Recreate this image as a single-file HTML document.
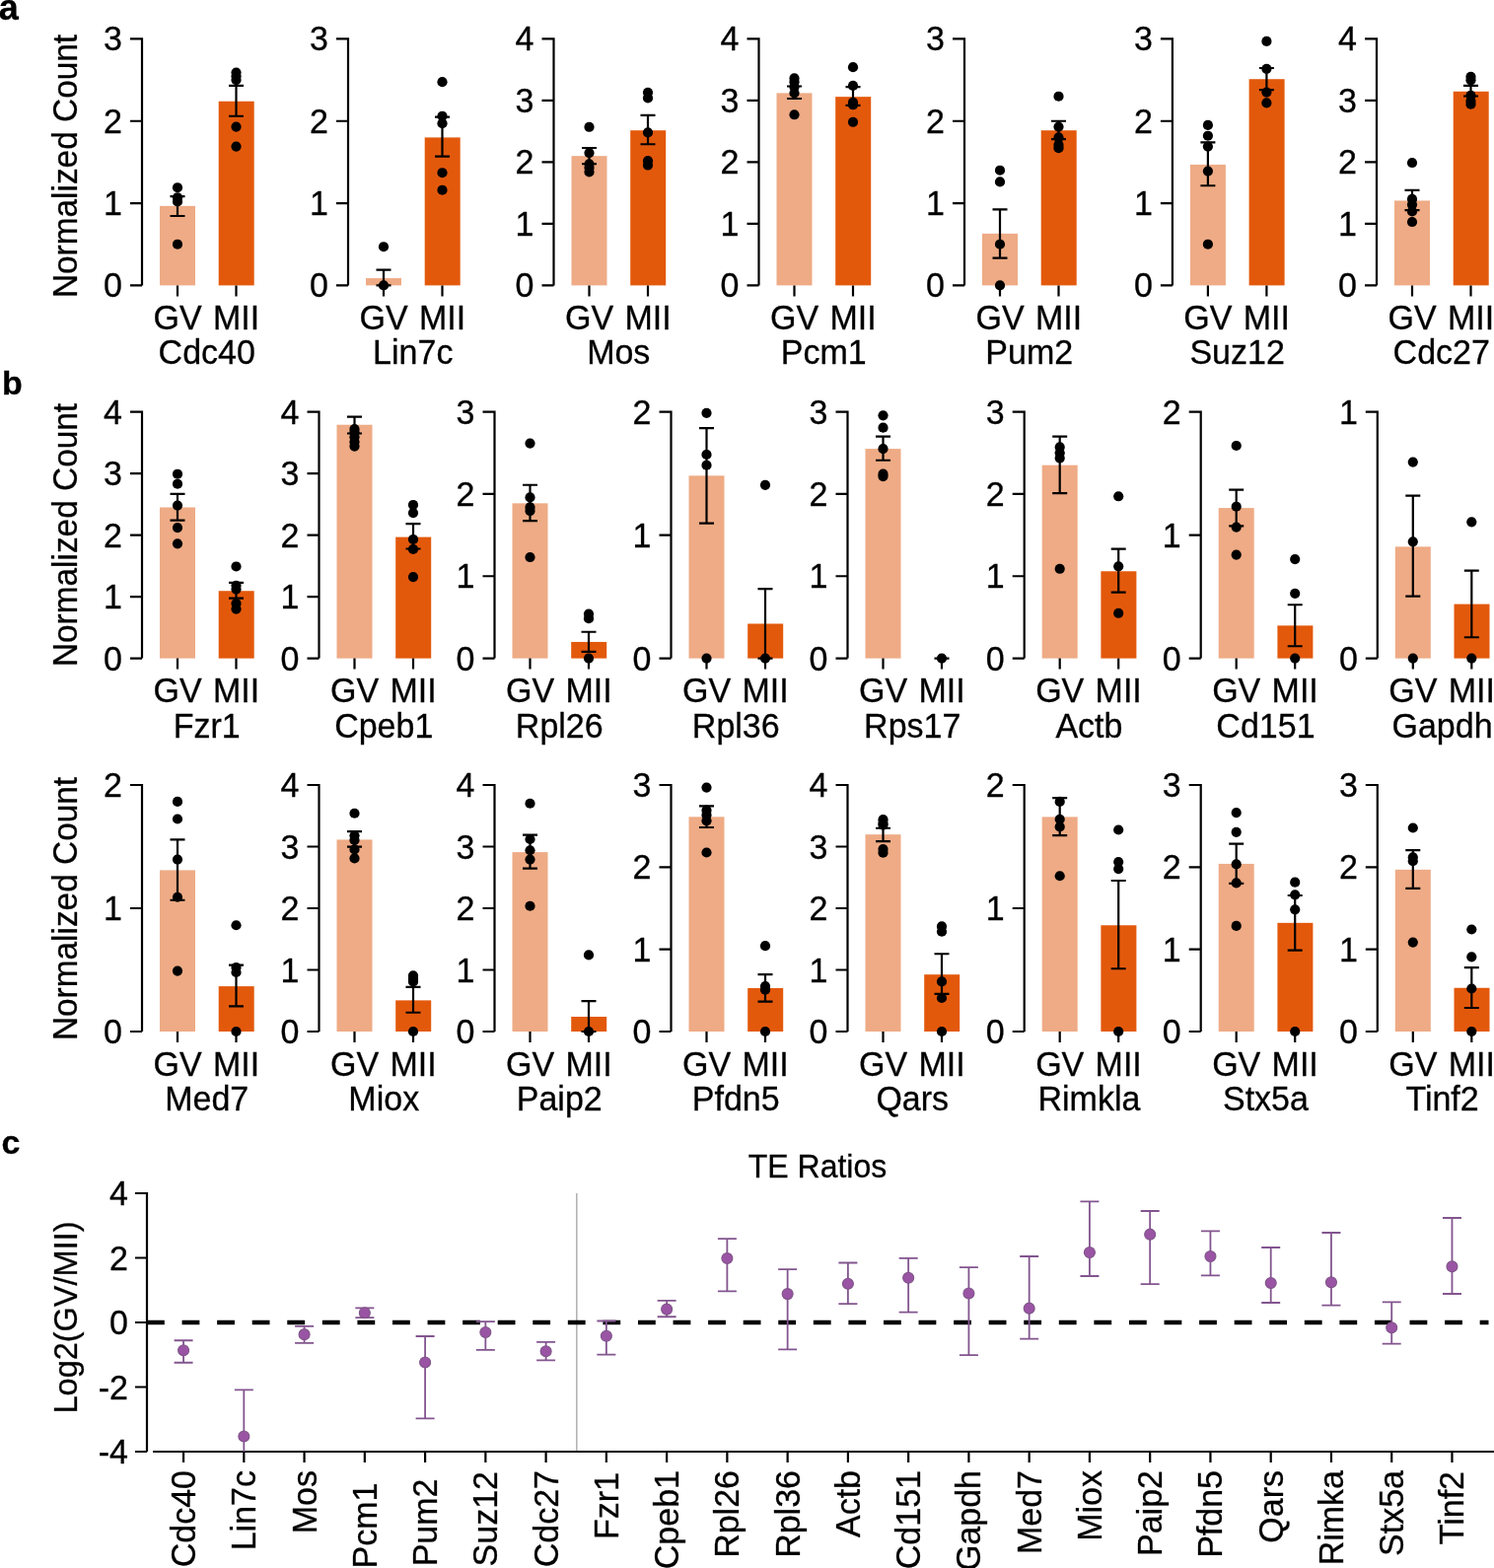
<!DOCTYPE html>
<html><head><meta charset="utf-8"><title>Figure</title>
<style>html,body{margin:0;padding:0;background:#fff;}text{stroke:#000;stroke-width:0.3px;}body{width:1515px;height:1590px;overflow:hidden;}svg{display:block;}</style>
</head><body>
<svg width="1515" height="1590" viewBox="0 0 1515 1590" font-family="'Liberation Sans', Arial, Helvetica, sans-serif" font-size="34" fill="#000">
<rect x="162" y="208.82" width="36" height="80.58" fill="#EEAB85"/>
<rect x="221.7" y="102.73" width="36" height="186.67" fill="#E3590C"/>
<path d="M132 39.4H144V289.4M132 289.4H144M132 206.07H144M132 122.73H144M180 289.4v11M239.5 289.4v11" fill="none" stroke="#000" stroke-width="2.2"/>
<path d="M180 218.98V199.07M172.5 199.07h15M172.5 218.98h15M239.5 117.73V86.9M232 86.9h15M232 117.73h15" fill="none" stroke="#000" stroke-width="2.2"/>
<circle cx="180" cy="190.23" r="5.1"/>
<circle cx="180" cy="200.23" r="5.1"/>
<circle cx="180" cy="204.4" r="5.1"/>
<circle cx="180" cy="247.73" r="5.1"/>
<circle cx="239.5" cy="73.57" r="5.1"/>
<circle cx="239.5" cy="77.32" r="5.1"/>
<circle cx="239.5" cy="81.07" r="5.1"/>
<circle cx="239.5" cy="128.57" r="5.1"/>
<circle cx="239.5" cy="148.57" r="5.1"/>
<text transform="translate(124 301.4) scale(1 1.05)" text-anchor="end">0</text>
<text transform="translate(124 218.07) scale(1 1.05)" text-anchor="end">1</text>
<text transform="translate(124 134.73) scale(1 1.05)" text-anchor="end">2</text>
<text transform="translate(124 51.4) scale(1 1.05)" text-anchor="end">3</text>
<text transform="translate(180 333.9) scale(1 1.05)" text-anchor="middle">GV</text>
<text transform="translate(239.5 333.9) scale(1 1.05)" text-anchor="middle">MII</text>
<text transform="translate(209.75 369.4) scale(1 1.05)" text-anchor="middle">Cdc40</text>
<rect x="371" y="282.07" width="36" height="7.33" fill="#EEAB85"/>
<rect x="430.7" y="139.4" width="36" height="150" fill="#E3590C"/>
<path d="M341 39.4H353V289.4M341 289.4H353M341 206.07H353M341 122.73H353M389 289.4v11M448.5 289.4v11" fill="none" stroke="#000" stroke-width="2.2"/>
<path d="M389 289.4V273.57M381.5 273.57h15M381.5 289.4h15M448.5 158.57V118.57M441 118.57h15M441 158.57h15" fill="none" stroke="#000" stroke-width="2.2"/>
<circle cx="389" cy="250.23" r="5.1"/>
<circle cx="389" cy="289.4" r="5.1"/>
<circle cx="448.5" cy="83.15" r="5.1"/>
<circle cx="448.5" cy="117.73" r="5.1"/>
<circle cx="448.5" cy="125.23" r="5.1"/>
<circle cx="448.5" cy="175.23" r="5.1"/>
<circle cx="448.5" cy="192.73" r="5.1"/>
<text transform="translate(333 301.4) scale(1 1.05)" text-anchor="end">0</text>
<text transform="translate(333 218.07) scale(1 1.05)" text-anchor="end">1</text>
<text transform="translate(333 134.73) scale(1 1.05)" text-anchor="end">2</text>
<text transform="translate(333 51.4) scale(1 1.05)" text-anchor="end">3</text>
<text transform="translate(389 333.9) scale(1 1.05)" text-anchor="middle">GV</text>
<text transform="translate(448.5 333.9) scale(1 1.05)" text-anchor="middle">MII</text>
<text transform="translate(418.75 369.4) scale(1 1.05)" text-anchor="middle">Lin7c</text>
<rect x="579.5" y="158.15" width="36" height="131.25" fill="#EEAB85"/>
<rect x="639.2" y="132.21" width="36" height="157.19" fill="#E3590C"/>
<path d="M549.5 39.4H561.5V289.4M549.5 289.4H561.5M549.5 226.9H561.5M549.5 164.4H561.5M549.5 101.9H561.5M597.5 289.4v11M657 289.4v11" fill="none" stroke="#000" stroke-width="2.2"/>
<path d="M597.5 166.27V150.02M590 150.02h15M590 166.27h15M657 146.27V116.9M649.5 116.9h15M649.5 146.27h15" fill="none" stroke="#000" stroke-width="2.2"/>
<circle cx="597.5" cy="128.77" r="5.1"/>
<circle cx="597.5" cy="155.02" r="5.1"/>
<circle cx="597.5" cy="166.27" r="5.1"/>
<circle cx="597.5" cy="170.02" r="5.1"/>
<circle cx="597.5" cy="174.4" r="5.1"/>
<circle cx="657" cy="93.77" r="5.1"/>
<circle cx="657" cy="99.4" r="5.1"/>
<circle cx="657" cy="134.4" r="5.1"/>
<circle cx="657" cy="163.15" r="5.1"/>
<circle cx="657" cy="167.52" r="5.1"/>
<text transform="translate(541.5 301.4) scale(1 1.05)" text-anchor="end">0</text>
<text transform="translate(541.5 238.9) scale(1 1.05)" text-anchor="end">1</text>
<text transform="translate(541.5 176.4) scale(1 1.05)" text-anchor="end">2</text>
<text transform="translate(541.5 113.9) scale(1 1.05)" text-anchor="end">3</text>
<text transform="translate(541.5 51.4) scale(1 1.05)" text-anchor="end">4</text>
<text transform="translate(597.5 333.9) scale(1 1.05)" text-anchor="middle">GV</text>
<text transform="translate(657 333.9) scale(1 1.05)" text-anchor="middle">MII</text>
<text transform="translate(627.25 369.4) scale(1 1.05)" text-anchor="middle">Mos</text>
<rect x="787.5" y="94.4" width="36" height="195" fill="#EEAB85"/>
<rect x="847.2" y="98.15" width="36" height="191.25" fill="#E3590C"/>
<path d="M757.5 39.4H769.5V289.4M757.5 289.4H769.5M757.5 226.9H769.5M757.5 164.4H769.5M757.5 101.9H769.5M805.5 289.4v11M865 289.4v11" fill="none" stroke="#000" stroke-width="2.2"/>
<path d="M805.5 100.02V87.52M798 87.52h15M798 100.02h15M865 106.9V88.15M857.5 88.15h15M857.5 106.9h15" fill="none" stroke="#000" stroke-width="2.2"/>
<circle cx="805.5" cy="79.4" r="5.1"/>
<circle cx="805.5" cy="83.15" r="5.1"/>
<circle cx="805.5" cy="88.15" r="5.1"/>
<circle cx="805.5" cy="94.4" r="5.1"/>
<circle cx="805.5" cy="116.27" r="5.1"/>
<circle cx="865" cy="68.15" r="5.1"/>
<circle cx="865" cy="86.9" r="5.1"/>
<circle cx="865" cy="103.77" r="5.1"/>
<circle cx="865" cy="106.27" r="5.1"/>
<circle cx="865" cy="123.77" r="5.1"/>
<text transform="translate(749.5 301.4) scale(1 1.05)" text-anchor="end">0</text>
<text transform="translate(749.5 238.9) scale(1 1.05)" text-anchor="end">1</text>
<text transform="translate(749.5 176.4) scale(1 1.05)" text-anchor="end">2</text>
<text transform="translate(749.5 113.9) scale(1 1.05)" text-anchor="end">3</text>
<text transform="translate(749.5 51.4) scale(1 1.05)" text-anchor="end">4</text>
<text transform="translate(805.5 333.9) scale(1 1.05)" text-anchor="middle">GV</text>
<text transform="translate(865 333.9) scale(1 1.05)" text-anchor="middle">MII</text>
<text transform="translate(835.25 369.4) scale(1 1.05)" text-anchor="middle">Pcm1</text>
<rect x="996" y="236.9" width="36" height="52.5" fill="#EEAB85"/>
<rect x="1055.7" y="132.23" width="36" height="157.17" fill="#E3590C"/>
<path d="M966 39.4H978V289.4M966 289.4H978M966 206.07H978M966 122.73H978M1014 289.4v11M1073.5 289.4v11" fill="none" stroke="#000" stroke-width="2.2"/>
<path d="M1014 261.65V212.32M1006.5 212.32h15M1006.5 261.65h15M1073.5 141.07V122.73M1066 122.73h15M1066 141.07h15" fill="none" stroke="#000" stroke-width="2.2"/>
<circle cx="1014" cy="172.73" r="5.1"/>
<circle cx="1014" cy="184.4" r="5.1"/>
<circle cx="1014" cy="247.73" r="5.1"/>
<circle cx="1014" cy="289.4" r="5.1"/>
<circle cx="1073.5" cy="97.73" r="5.1"/>
<circle cx="1073.5" cy="128.57" r="5.1"/>
<circle cx="1073.5" cy="139.4" r="5.1"/>
<circle cx="1073.5" cy="146.9" r="5.1"/>
<circle cx="1073.5" cy="150.23" r="5.1"/>
<text transform="translate(958 301.4) scale(1 1.05)" text-anchor="end">0</text>
<text transform="translate(958 218.07) scale(1 1.05)" text-anchor="end">1</text>
<text transform="translate(958 134.73) scale(1 1.05)" text-anchor="end">2</text>
<text transform="translate(958 51.4) scale(1 1.05)" text-anchor="end">3</text>
<text transform="translate(1014 333.9) scale(1 1.05)" text-anchor="middle">GV</text>
<text transform="translate(1073.5 333.9) scale(1 1.05)" text-anchor="middle">MII</text>
<text transform="translate(1043.75 369.4) scale(1 1.05)" text-anchor="middle">Pum2</text>
<rect x="1206.9" y="166.9" width="36" height="122.5" fill="#EEAB85"/>
<rect x="1266.6" y="80.23" width="36" height="209.17" fill="#E3590C"/>
<path d="M1176.9 39.4H1188.9V289.4M1176.9 289.4H1188.9M1176.9 206.07H1188.9M1176.9 122.73H1188.9M1224.9 289.4v11M1284.4 289.4v11" fill="none" stroke="#000" stroke-width="2.2"/>
<path d="M1224.9 188.23V144.4M1217.4 144.4h15M1217.4 188.23h15M1284.4 91.07V68.98M1276.9 68.98h15M1276.9 91.07h15" fill="none" stroke="#000" stroke-width="2.2"/>
<circle cx="1224.9" cy="126.9" r="5.1"/>
<circle cx="1224.9" cy="137.73" r="5.1"/>
<circle cx="1224.9" cy="148.57" r="5.1"/>
<circle cx="1224.9" cy="173.57" r="5.1"/>
<circle cx="1224.9" cy="247.73" r="5.1"/>
<circle cx="1284.4" cy="41.9" r="5.1"/>
<circle cx="1284.4" cy="69.82" r="5.1"/>
<circle cx="1284.4" cy="93.57" r="5.1"/>
<circle cx="1284.4" cy="104.4" r="5.1"/>
<text transform="translate(1168.9 301.4) scale(1 1.05)" text-anchor="end">0</text>
<text transform="translate(1168.9 218.07) scale(1 1.05)" text-anchor="end">1</text>
<text transform="translate(1168.9 134.73) scale(1 1.05)" text-anchor="end">2</text>
<text transform="translate(1168.9 51.4) scale(1 1.05)" text-anchor="end">3</text>
<text transform="translate(1224.9 333.9) scale(1 1.05)" text-anchor="middle">GV</text>
<text transform="translate(1284.4 333.9) scale(1 1.05)" text-anchor="middle">MII</text>
<text transform="translate(1254.65 369.4) scale(1 1.05)" text-anchor="middle">Suz12</text>
<rect x="1414" y="203.46" width="36" height="85.94" fill="#EEAB85"/>
<rect x="1473.7" y="92.77" width="36" height="196.62" fill="#E3590C"/>
<path d="M1384 39.4H1396V289.4M1384 289.4H1396M1384 226.9H1396M1384 164.4H1396M1384 101.9H1396M1432 289.4v11M1491.5 289.4v11" fill="none" stroke="#000" stroke-width="2.2"/>
<path d="M1432 213.15V192.9M1424.5 192.9h15M1424.5 213.15h15M1491.5 97.52V86.9M1484 86.9h15M1484 97.52h15" fill="none" stroke="#000" stroke-width="2.2"/>
<circle cx="1432" cy="165.02" r="5.1"/>
<circle cx="1432" cy="201.9" r="5.1"/>
<circle cx="1432" cy="207.52" r="5.1"/>
<circle cx="1432" cy="214.4" r="5.1"/>
<circle cx="1432" cy="225.02" r="5.1"/>
<circle cx="1491.5" cy="77.84" r="5.1"/>
<circle cx="1491.5" cy="81.27" r="5.1"/>
<circle cx="1491.5" cy="96.9" r="5.1"/>
<circle cx="1491.5" cy="102.52" r="5.1"/>
<circle cx="1491.5" cy="105.65" r="5.1"/>
<text transform="translate(1376 301.4) scale(1 1.05)" text-anchor="end">0</text>
<text transform="translate(1376 238.9) scale(1 1.05)" text-anchor="end">1</text>
<text transform="translate(1376 176.4) scale(1 1.05)" text-anchor="end">2</text>
<text transform="translate(1376 113.9) scale(1 1.05)" text-anchor="end">3</text>
<text transform="translate(1376 51.4) scale(1 1.05)" text-anchor="end">4</text>
<text transform="translate(1432 333.9) scale(1 1.05)" text-anchor="middle">GV</text>
<text transform="translate(1491.5 333.9) scale(1 1.05)" text-anchor="middle">MII</text>
<text transform="translate(1461.75 369.4) scale(1 1.05)" text-anchor="middle">Cdc27</text>
<rect x="162" y="514.48" width="36" height="153.12" fill="#EEAB85"/>
<rect x="221.7" y="599.23" width="36" height="68.38" fill="#E3590C"/>
<path d="M132 417.6H144V667.6M132 667.6H144M132 605.1H144M132 542.6H144M132 480.1H144M180 667.6v11M239.5 667.6v11" fill="none" stroke="#000" stroke-width="2.2"/>
<path d="M180 527.6V500.91M172.5 500.91h15M172.5 527.6h15M239.5 606.6V590.91M232 590.91h15M232 606.6h15" fill="none" stroke="#000" stroke-width="2.2"/>
<circle cx="180" cy="480.73" r="5.1"/>
<circle cx="180" cy="490.73" r="5.1"/>
<circle cx="180" cy="512.6" r="5.1"/>
<circle cx="180" cy="535.1" r="5.1"/>
<circle cx="180" cy="551.35" r="5.1"/>
<circle cx="239.5" cy="574.48" r="5.1"/>
<circle cx="239.5" cy="593.85" r="5.1"/>
<circle cx="239.5" cy="597.6" r="5.1"/>
<circle cx="239.5" cy="611.98" r="5.1"/>
<circle cx="239.5" cy="617.6" r="5.1"/>
<text transform="translate(124 679.6) scale(1 1.05)" text-anchor="end">0</text>
<text transform="translate(124 617.1) scale(1 1.05)" text-anchor="end">1</text>
<text transform="translate(124 554.6) scale(1 1.05)" text-anchor="end">2</text>
<text transform="translate(124 492.1) scale(1 1.05)" text-anchor="end">3</text>
<text transform="translate(124 429.6) scale(1 1.05)" text-anchor="end">4</text>
<text transform="translate(180 712.1) scale(1 1.05)" text-anchor="middle">GV</text>
<text transform="translate(239.5 712.1) scale(1 1.05)" text-anchor="middle">MII</text>
<text transform="translate(209.75 747.6) scale(1 1.05)" text-anchor="middle">Fzr1</text>
<rect x="341.5" y="430.73" width="36" height="236.88" fill="#EEAB85"/>
<rect x="401.2" y="544.6" width="36" height="123" fill="#E3590C"/>
<path d="M311.5 417.6H323.5V667.6M311.5 667.6H323.5M311.5 605.1H323.5M311.5 542.6H323.5M311.5 480.1H323.5M359.5 667.6v11M419 667.6v11" fill="none" stroke="#000" stroke-width="2.2"/>
<path d="M359.5 439.48V422.6M352 422.6h15M352 439.48h15M419 556.48V531.04M411.5 531.04h15M411.5 556.48h15" fill="none" stroke="#000" stroke-width="2.2"/>
<circle cx="359.5" cy="435.1" r="5.1"/>
<circle cx="359.5" cy="438.23" r="5.1"/>
<circle cx="359.5" cy="443.23" r="5.1"/>
<circle cx="359.5" cy="448.23" r="5.1"/>
<circle cx="359.5" cy="452.6" r="5.1"/>
<circle cx="419" cy="511.98" r="5.1"/>
<circle cx="419" cy="520.1" r="5.1"/>
<circle cx="419" cy="546.98" r="5.1"/>
<circle cx="419" cy="556.98" r="5.1"/>
<circle cx="419" cy="585.1" r="5.1"/>
<text transform="translate(303.5 679.6) scale(1 1.05)" text-anchor="end">0</text>
<text transform="translate(303.5 617.1) scale(1 1.05)" text-anchor="end">1</text>
<text transform="translate(303.5 554.6) scale(1 1.05)" text-anchor="end">2</text>
<text transform="translate(303.5 492.1) scale(1 1.05)" text-anchor="end">3</text>
<text transform="translate(303.5 429.6) scale(1 1.05)" text-anchor="end">4</text>
<text transform="translate(359.5 712.1) scale(1 1.05)" text-anchor="middle">GV</text>
<text transform="translate(419 712.1) scale(1 1.05)" text-anchor="middle">MII</text>
<text transform="translate(389.25 747.6) scale(1 1.05)" text-anchor="middle">Cpeb1</text>
<rect x="519.5" y="510.35" width="36" height="157.25" fill="#EEAB85"/>
<rect x="579.2" y="650.93" width="36" height="16.67" fill="#E3590C"/>
<path d="M489.5 417.6H501.5V667.6M489.5 667.6H501.5M489.5 584.27H501.5M489.5 500.93H501.5M537.5 667.6v11M597 667.6v11" fill="none" stroke="#000" stroke-width="2.2"/>
<path d="M537.5 528.18V491.77M530 491.77h15M530 528.18h15M597 660.93V640.77M589.5 640.77h15M589.5 660.93h15" fill="none" stroke="#000" stroke-width="2.2"/>
<circle cx="537.5" cy="449.6" r="5.1"/>
<circle cx="537.5" cy="504.43" r="5.1"/>
<circle cx="537.5" cy="514.43" r="5.1"/>
<circle cx="537.5" cy="518.02" r="5.1"/>
<circle cx="537.5" cy="565.02" r="5.1"/>
<circle cx="597" cy="622.6" r="5.1"/>
<circle cx="597" cy="627.18" r="5.1"/>
<circle cx="597" cy="667.6" r="5.1"/>
<text transform="translate(481.5 679.6) scale(1 1.05)" text-anchor="end">0</text>
<text transform="translate(481.5 596.27) scale(1 1.05)" text-anchor="end">1</text>
<text transform="translate(481.5 512.93) scale(1 1.05)" text-anchor="end">2</text>
<text transform="translate(481.5 429.6) scale(1 1.05)" text-anchor="end">3</text>
<text transform="translate(537.5 712.1) scale(1 1.05)" text-anchor="middle">GV</text>
<text transform="translate(597 712.1) scale(1 1.05)" text-anchor="middle">MII</text>
<text transform="translate(567.25 747.6) scale(1 1.05)" text-anchor="middle">Rpl26</text>
<rect x="698.5" y="482.35" width="36" height="185.25" fill="#EEAB85"/>
<rect x="758.2" y="632.48" width="36" height="35.12" fill="#E3590C"/>
<path d="M668.5 417.6H680.5V667.6M668.5 667.6H680.5M668.5 542.6H680.5M716.5 667.6v11M776 667.6v11" fill="none" stroke="#000" stroke-width="2.2"/>
<path d="M716.5 530.6V434.1M709 434.1h15M709 530.6h15M776 667.6V597.1M768.5 597.1h15M768.5 667.6h15" fill="none" stroke="#000" stroke-width="2.2"/>
<circle cx="716.5" cy="418.85" r="5.1"/>
<circle cx="716.5" cy="460.98" r="5.1"/>
<circle cx="716.5" cy="471.73" r="5.1"/>
<circle cx="716.5" cy="667.6" r="5.1"/>
<circle cx="776" cy="491.85" r="5.1"/>
<circle cx="776" cy="667.6" r="5.1"/>
<text transform="translate(660.5 679.6) scale(1 1.05)" text-anchor="end">0</text>
<text transform="translate(660.5 554.6) scale(1 1.05)" text-anchor="end">1</text>
<text transform="translate(660.5 429.6) scale(1 1.05)" text-anchor="end">2</text>
<text transform="translate(716.5 712.1) scale(1 1.05)" text-anchor="middle">GV</text>
<text transform="translate(776 712.1) scale(1 1.05)" text-anchor="middle">MII</text>
<text transform="translate(746.25 747.6) scale(1 1.05)" text-anchor="middle">Rpl36</text>
<rect x="877.5" y="455.1" width="36" height="212.5" fill="#EEAB85"/>
<path d="M847.5 417.6H859.5V667.6M847.5 667.6H859.5M847.5 584.27H859.5M847.5 500.93H859.5M895.5 667.6v11M955 667.6v11" fill="none" stroke="#000" stroke-width="2.2"/>
<path d="M895.5 466.77V442.6M888 442.6h15M888 466.77h15M955 667.6V667.6M947.5 667.6h15M947.5 667.6h15" fill="none" stroke="#000" stroke-width="2.2"/>
<circle cx="895.5" cy="421.35" r="5.1"/>
<circle cx="895.5" cy="433.68" r="5.1"/>
<circle cx="895.5" cy="455.1" r="5.1"/>
<circle cx="895.5" cy="480.68" r="5.1"/>
<circle cx="895.5" cy="483.1" r="5.1"/>
<circle cx="955" cy="667.6" r="5.1"/>
<text transform="translate(839.5 679.6) scale(1 1.05)" text-anchor="end">0</text>
<text transform="translate(839.5 596.27) scale(1 1.05)" text-anchor="end">1</text>
<text transform="translate(839.5 512.93) scale(1 1.05)" text-anchor="end">2</text>
<text transform="translate(839.5 429.6) scale(1 1.05)" text-anchor="end">3</text>
<text transform="translate(895.5 712.1) scale(1 1.05)" text-anchor="middle">GV</text>
<text transform="translate(955 712.1) scale(1 1.05)" text-anchor="middle">MII</text>
<text transform="translate(925.25 747.6) scale(1 1.05)" text-anchor="middle">Rps17</text>
<rect x="1056.7" y="471.68" width="36" height="195.92" fill="#EEAB85"/>
<rect x="1116.4" y="579.27" width="36" height="88.33" fill="#E3590C"/>
<path d="M1026.7 417.6H1038.7V667.6M1026.7 667.6H1038.7M1026.7 584.27H1038.7M1026.7 500.93H1038.7M1074.7 667.6v11M1134.2 667.6v11" fill="none" stroke="#000" stroke-width="2.2"/>
<path d="M1074.7 500.1V442.6M1067.2 442.6h15M1067.2 500.1h15M1134.2 600.6V556.68M1126.7 556.68h15M1126.7 600.6h15" fill="none" stroke="#000" stroke-width="2.2"/>
<circle cx="1074.7" cy="453.43" r="5.1"/>
<circle cx="1074.7" cy="459.27" r="5.1"/>
<circle cx="1074.7" cy="464.52" r="5.1"/>
<circle cx="1074.7" cy="576.77" r="5.1"/>
<circle cx="1134.2" cy="503.27" r="5.1"/>
<circle cx="1134.2" cy="574.27" r="5.1"/>
<circle cx="1134.2" cy="621.77" r="5.1"/>
<text transform="translate(1018.7 679.6) scale(1 1.05)" text-anchor="end">0</text>
<text transform="translate(1018.7 596.27) scale(1 1.05)" text-anchor="end">1</text>
<text transform="translate(1018.7 512.93) scale(1 1.05)" text-anchor="end">2</text>
<text transform="translate(1018.7 429.6) scale(1 1.05)" text-anchor="end">3</text>
<text transform="translate(1074.7 712.1) scale(1 1.05)" text-anchor="middle">GV</text>
<text transform="translate(1134.2 712.1) scale(1 1.05)" text-anchor="middle">MII</text>
<text transform="translate(1104.45 747.6) scale(1 1.05)" text-anchor="middle">Actb</text>
<rect x="1235.7" y="515.1" width="36" height="152.5" fill="#EEAB85"/>
<rect x="1295.4" y="634.35" width="36" height="33.25" fill="#E3590C"/>
<path d="M1205.7 417.6H1217.7V667.6M1205.7 667.6H1217.7M1205.7 542.6H1217.7M1253.7 667.6v11M1313.2 667.6v11" fill="none" stroke="#000" stroke-width="2.2"/>
<path d="M1253.7 533.35V496.6M1246.2 496.6h15M1246.2 533.35h15M1313.2 655.23V613.23M1305.7 613.23h15M1305.7 655.23h15" fill="none" stroke="#000" stroke-width="2.2"/>
<circle cx="1253.7" cy="451.98" r="5.1"/>
<circle cx="1253.7" cy="513.73" r="5.1"/>
<circle cx="1253.7" cy="534.6" r="5.1"/>
<circle cx="1253.7" cy="562.6" r="5.1"/>
<circle cx="1313.2" cy="567.1" r="5.1"/>
<circle cx="1313.2" cy="601.85" r="5.1"/>
<circle cx="1313.2" cy="667.6" r="5.1"/>
<text transform="translate(1197.7 679.6) scale(1 1.05)" text-anchor="end">0</text>
<text transform="translate(1197.7 554.6) scale(1 1.05)" text-anchor="end">1</text>
<text transform="translate(1197.7 429.6) scale(1 1.05)" text-anchor="end">2</text>
<text transform="translate(1253.7 712.1) scale(1 1.05)" text-anchor="middle">GV</text>
<text transform="translate(1313.2 712.1) scale(1 1.05)" text-anchor="middle">MII</text>
<text transform="translate(1283.45 747.6) scale(1 1.05)" text-anchor="middle">Cd151</text>
<rect x="1414.8" y="554.35" width="36" height="113.25" fill="#EEAB85"/>
<rect x="1474.5" y="612.6" width="36" height="55" fill="#E3590C"/>
<path d="M1384.8 417.6H1396.8V667.6M1384.8 667.6H1396.8M1432.8 667.6v11M1492.3 667.6v11" fill="none" stroke="#000" stroke-width="2.2"/>
<path d="M1432.8 604.6V502.6M1425.3 502.6h15M1425.3 604.6h15M1492.3 646.23V578.6M1484.8 578.6h15M1484.8 646.23h15" fill="none" stroke="#000" stroke-width="2.2"/>
<circle cx="1432.8" cy="468.6" r="5.1"/>
<circle cx="1432.8" cy="549.35" r="5.1"/>
<circle cx="1432.8" cy="667.6" r="5.1"/>
<circle cx="1492.3" cy="529.35" r="5.1"/>
<circle cx="1492.3" cy="667.6" r="5.1"/>
<text transform="translate(1376.8 679.6) scale(1 1.05)" text-anchor="end">0</text>
<text transform="translate(1376.8 429.6) scale(1 1.05)" text-anchor="end">1</text>
<text transform="translate(1432.8 712.1) scale(1 1.05)" text-anchor="middle">GV</text>
<text transform="translate(1492.3 712.1) scale(1 1.05)" text-anchor="middle">MII</text>
<text transform="translate(1462.55 747.6) scale(1 1.05)" text-anchor="middle">Gapdh</text>
<rect x="162" y="882.38" width="36" height="163.62" fill="#EEAB85"/>
<rect x="221.7" y="1000.12" width="36" height="45.88" fill="#E3590C"/>
<path d="M132 796H144V1046M132 1046H144M132 921H144M180 1046v11M239.5 1046v11" fill="none" stroke="#000" stroke-width="2.2"/>
<path d="M180 912.75V851.38M172.5 851.38h15M172.5 912.75h15M239.5 1020.31V978.62M232 978.62h15M232 1020.31h15" fill="none" stroke="#000" stroke-width="2.2"/>
<circle cx="180" cy="812.88" r="5.1"/>
<circle cx="180" cy="830.5" r="5.1"/>
<circle cx="180" cy="871.62" r="5.1"/>
<circle cx="180" cy="909.75" r="5.1"/>
<circle cx="180" cy="984.62" r="5.1"/>
<circle cx="239.5" cy="938.25" r="5.1"/>
<circle cx="239.5" cy="981" r="5.1"/>
<circle cx="239.5" cy="986" r="5.1"/>
<circle cx="239.5" cy="1046" r="5.1"/>
<text transform="translate(124 1058) scale(1 1.05)" text-anchor="end">0</text>
<text transform="translate(124 933) scale(1 1.05)" text-anchor="end">1</text>
<text transform="translate(124 808) scale(1 1.05)" text-anchor="end">2</text>
<text transform="translate(180 1090.5) scale(1 1.05)" text-anchor="middle">GV</text>
<text transform="translate(239.5 1090.5) scale(1 1.05)" text-anchor="middle">MII</text>
<text transform="translate(209.75 1126) scale(1 1.05)" text-anchor="middle">Med7</text>
<rect x="341.5" y="851.44" width="36" height="194.56" fill="#EEAB85"/>
<rect x="401.2" y="1014.38" width="36" height="31.62" fill="#E3590C"/>
<path d="M311.5 796H323.5V1046M311.5 1046H323.5M311.5 983.5H323.5M311.5 921H323.5M311.5 858.5H323.5M359.5 1046v11M419 1046v11" fill="none" stroke="#000" stroke-width="2.2"/>
<path d="M359.5 858.56V843.12M352 843.12h15M352 858.56h15M419 1026.75V1000.81M411.5 1000.81h15M411.5 1026.75h15" fill="none" stroke="#000" stroke-width="2.2"/>
<circle cx="359.5" cy="824.75" r="5.1"/>
<circle cx="359.5" cy="847.25" r="5.1"/>
<circle cx="359.5" cy="851.88" r="5.1"/>
<circle cx="359.5" cy="861.44" r="5.1"/>
<circle cx="359.5" cy="870.44" r="5.1"/>
<circle cx="419" cy="989.38" r="5.1"/>
<circle cx="419" cy="992.5" r="5.1"/>
<circle cx="419" cy="995.38" r="5.1"/>
<circle cx="419" cy="1046" r="5.1"/>
<text transform="translate(303.5 1058) scale(1 1.05)" text-anchor="end">0</text>
<text transform="translate(303.5 995.5) scale(1 1.05)" text-anchor="end">1</text>
<text transform="translate(303.5 933) scale(1 1.05)" text-anchor="end">2</text>
<text transform="translate(303.5 870.5) scale(1 1.05)" text-anchor="end">3</text>
<text transform="translate(303.5 808) scale(1 1.05)" text-anchor="end">4</text>
<text transform="translate(359.5 1090.5) scale(1 1.05)" text-anchor="middle">GV</text>
<text transform="translate(419 1090.5) scale(1 1.05)" text-anchor="middle">MII</text>
<text transform="translate(389.25 1126) scale(1 1.05)" text-anchor="middle">Miox</text>
<rect x="519.5" y="864.12" width="36" height="181.88" fill="#EEAB85"/>
<rect x="579.2" y="1031" width="36" height="15" fill="#E3590C"/>
<path d="M489.5 796H501.5V1046M489.5 1046H501.5M489.5 983.5H501.5M489.5 921H501.5M489.5 858.5H501.5M537.5 1046v11M597 1046v11" fill="none" stroke="#000" stroke-width="2.2"/>
<path d="M537.5 880.69V846.62M530 846.62h15M530 880.69h15M597 1046V1015.06M589.5 1015.06h15M589.5 1046h15" fill="none" stroke="#000" stroke-width="2.2"/>
<circle cx="537.5" cy="814.75" r="5.1"/>
<circle cx="537.5" cy="851" r="5.1"/>
<circle cx="537.5" cy="862.25" r="5.1"/>
<circle cx="537.5" cy="871.62" r="5.1"/>
<circle cx="537.5" cy="918.75" r="5.1"/>
<circle cx="597" cy="968.44" r="5.1"/>
<circle cx="597" cy="1046" r="5.1"/>
<text transform="translate(481.5 1058) scale(1 1.05)" text-anchor="end">0</text>
<text transform="translate(481.5 995.5) scale(1 1.05)" text-anchor="end">1</text>
<text transform="translate(481.5 933) scale(1 1.05)" text-anchor="end">2</text>
<text transform="translate(481.5 870.5) scale(1 1.05)" text-anchor="end">3</text>
<text transform="translate(481.5 808) scale(1 1.05)" text-anchor="end">4</text>
<text transform="translate(537.5 1090.5) scale(1 1.05)" text-anchor="middle">GV</text>
<text transform="translate(597 1090.5) scale(1 1.05)" text-anchor="middle">MII</text>
<text transform="translate(567.25 1126) scale(1 1.05)" text-anchor="middle">Paip2</text>
<rect x="698.5" y="828.33" width="36" height="217.67" fill="#EEAB85"/>
<rect x="758.2" y="1002" width="36" height="44" fill="#E3590C"/>
<path d="M668.5 796H680.5V1046M668.5 1046H680.5M668.5 962.67H680.5M668.5 879.33H680.5M716.5 1046v11M776 1046v11" fill="none" stroke="#000" stroke-width="2.2"/>
<path d="M716.5 839V817.42M709 817.42h15M709 839h15M776 1015.58V988.17M768.5 988.17h15M768.5 1015.58h15" fill="none" stroke="#000" stroke-width="2.2"/>
<circle cx="716.5" cy="798.58" r="5.1"/>
<circle cx="716.5" cy="821.67" r="5.1"/>
<circle cx="716.5" cy="826.42" r="5.1"/>
<circle cx="716.5" cy="832.33" r="5.1"/>
<circle cx="716.5" cy="864.5" r="5.1"/>
<circle cx="776" cy="959.17" r="5.1"/>
<circle cx="776" cy="1000.08" r="5.1"/>
<circle cx="776" cy="1003.67" r="5.1"/>
<circle cx="776" cy="1046" r="5.1"/>
<text transform="translate(660.5 1058) scale(1 1.05)" text-anchor="end">0</text>
<text transform="translate(660.5 974.67) scale(1 1.05)" text-anchor="end">1</text>
<text transform="translate(660.5 891.33) scale(1 1.05)" text-anchor="end">2</text>
<text transform="translate(660.5 808) scale(1 1.05)" text-anchor="end">3</text>
<text transform="translate(716.5 1090.5) scale(1 1.05)" text-anchor="middle">GV</text>
<text transform="translate(776 1090.5) scale(1 1.05)" text-anchor="middle">MII</text>
<text transform="translate(746.25 1126) scale(1 1.05)" text-anchor="middle">Pfdn5</text>
<rect x="877.5" y="846.19" width="36" height="199.81" fill="#EEAB85"/>
<rect x="937.2" y="988.19" width="36" height="57.81" fill="#E3590C"/>
<path d="M847.5 796H859.5V1046M847.5 1046H859.5M847.5 983.5H859.5M847.5 921H859.5M847.5 858.5H859.5M895.5 1046v11M955 1046v11" fill="none" stroke="#000" stroke-width="2.2"/>
<path d="M895.5 853.06V839.75M888 839.75h15M888 853.06h15M955 1007.94V967.25M947.5 967.25h15M947.5 1007.94h15" fill="none" stroke="#000" stroke-width="2.2"/>
<circle cx="895.5" cy="831.19" r="5.1"/>
<circle cx="895.5" cy="834.75" r="5.1"/>
<circle cx="895.5" cy="836.62" r="5.1"/>
<circle cx="895.5" cy="861" r="5.1"/>
<circle cx="895.5" cy="864.75" r="5.1"/>
<circle cx="955" cy="939.44" r="5.1"/>
<circle cx="955" cy="944.75" r="5.1"/>
<circle cx="955" cy="995.38" r="5.1"/>
<circle cx="955" cy="1012" r="5.1"/>
<circle cx="955" cy="1046" r="5.1"/>
<text transform="translate(839.5 1058) scale(1 1.05)" text-anchor="end">0</text>
<text transform="translate(839.5 995.5) scale(1 1.05)" text-anchor="end">1</text>
<text transform="translate(839.5 933) scale(1 1.05)" text-anchor="end">2</text>
<text transform="translate(839.5 870.5) scale(1 1.05)" text-anchor="end">3</text>
<text transform="translate(839.5 808) scale(1 1.05)" text-anchor="end">4</text>
<text transform="translate(895.5 1090.5) scale(1 1.05)" text-anchor="middle">GV</text>
<text transform="translate(955 1090.5) scale(1 1.05)" text-anchor="middle">MII</text>
<text transform="translate(925.25 1126) scale(1 1.05)" text-anchor="middle">Qars</text>
<rect x="1056.7" y="828.38" width="36" height="217.62" fill="#EEAB85"/>
<rect x="1116.4" y="938.25" width="36" height="107.75" fill="#E3590C"/>
<path d="M1026.7 796H1038.7V1046M1026.7 1046H1038.7M1026.7 921H1038.7M1074.7 1046v11M1134.2 1046v11" fill="none" stroke="#000" stroke-width="2.2"/>
<path d="M1074.7 847.12V809.12M1067.2 809.12h15M1067.2 847.12h15M1134.2 982.25V893M1126.7 893h15M1126.7 982.25h15" fill="none" stroke="#000" stroke-width="2.2"/>
<circle cx="1074.7" cy="812.88" r="5.1"/>
<circle cx="1074.7" cy="830.75" r="5.1"/>
<circle cx="1074.7" cy="838.38" r="5.1"/>
<circle cx="1074.7" cy="888.25" r="5.1"/>
<circle cx="1134.2" cy="841.5" r="5.1"/>
<circle cx="1134.2" cy="874" r="5.1"/>
<circle cx="1134.2" cy="881.12" r="5.1"/>
<circle cx="1134.2" cy="1046" r="5.1"/>
<text transform="translate(1018.7 1058) scale(1 1.05)" text-anchor="end">0</text>
<text transform="translate(1018.7 933) scale(1 1.05)" text-anchor="end">1</text>
<text transform="translate(1018.7 808) scale(1 1.05)" text-anchor="end">2</text>
<text transform="translate(1074.7 1090.5) scale(1 1.05)" text-anchor="middle">GV</text>
<text transform="translate(1134.2 1090.5) scale(1 1.05)" text-anchor="middle">MII</text>
<text transform="translate(1104.45 1126) scale(1 1.05)" text-anchor="middle">Rimkla</text>
<rect x="1235.7" y="875.92" width="36" height="170.08" fill="#EEAB85"/>
<rect x="1295.4" y="935.83" width="36" height="110.17" fill="#E3590C"/>
<path d="M1205.7 796H1217.7V1046M1205.7 1046H1217.7M1205.7 962.67H1217.7M1205.7 879.33H1217.7M1253.7 1046v11M1313.2 1046v11" fill="none" stroke="#000" stroke-width="2.2"/>
<path d="M1253.7 895.92V855.67M1246.2 855.67h15M1246.2 895.92h15M1313.2 963.67V908M1305.7 908h15M1305.7 963.67h15" fill="none" stroke="#000" stroke-width="2.2"/>
<circle cx="1253.7" cy="824.08" r="5.1"/>
<circle cx="1253.7" cy="843.83" r="5.1"/>
<circle cx="1253.7" cy="876.42" r="5.1"/>
<circle cx="1253.7" cy="895.42" r="5.1"/>
<circle cx="1253.7" cy="938.92" r="5.1"/>
<circle cx="1313.2" cy="894.67" r="5.1"/>
<circle cx="1313.2" cy="907.33" r="5.1"/>
<circle cx="1313.2" cy="922.33" r="5.1"/>
<circle cx="1313.2" cy="1046" r="5.1"/>
<text transform="translate(1197.7 1058) scale(1 1.05)" text-anchor="end">0</text>
<text transform="translate(1197.7 974.67) scale(1 1.05)" text-anchor="end">1</text>
<text transform="translate(1197.7 891.33) scale(1 1.05)" text-anchor="end">2</text>
<text transform="translate(1197.7 808) scale(1 1.05)" text-anchor="end">3</text>
<text transform="translate(1253.7 1090.5) scale(1 1.05)" text-anchor="middle">GV</text>
<text transform="translate(1313.2 1090.5) scale(1 1.05)" text-anchor="middle">MII</text>
<text transform="translate(1283.45 1126) scale(1 1.05)" text-anchor="middle">Stx5a</text>
<rect x="1414.8" y="881.83" width="36" height="164.17" fill="#EEAB85"/>
<rect x="1474.5" y="1001.75" width="36" height="44.25" fill="#E3590C"/>
<path d="M1384.8 796H1396.8V1046M1384.8 1046H1396.8M1384.8 962.67H1396.8M1384.8 879.33H1396.8M1432.8 1046v11M1492.3 1046v11" fill="none" stroke="#000" stroke-width="2.2"/>
<path d="M1432.8 900.92V862.08M1425.3 862.08h15M1425.3 900.92h15M1492.3 1022V981.08M1484.8 981.08h15M1484.8 1022h15" fill="none" stroke="#000" stroke-width="2.2"/>
<circle cx="1432.8" cy="839.5" r="5.1"/>
<circle cx="1432.8" cy="869.25" r="5.1"/>
<circle cx="1432.8" cy="873.25" r="5.1"/>
<circle cx="1432.8" cy="955.58" r="5.1"/>
<circle cx="1492.3" cy="942.5" r="5.1"/>
<circle cx="1492.3" cy="970.33" r="5.1"/>
<circle cx="1492.3" cy="1002.5" r="5.1"/>
<circle cx="1492.3" cy="1046" r="5.1"/>
<text transform="translate(1376.8 1058) scale(1 1.05)" text-anchor="end">0</text>
<text transform="translate(1376.8 974.67) scale(1 1.05)" text-anchor="end">1</text>
<text transform="translate(1376.8 891.33) scale(1 1.05)" text-anchor="end">2</text>
<text transform="translate(1376.8 808) scale(1 1.05)" text-anchor="end">3</text>
<text transform="translate(1432.8 1090.5) scale(1 1.05)" text-anchor="middle">GV</text>
<text transform="translate(1492.3 1090.5) scale(1 1.05)" text-anchor="middle">MII</text>
<text transform="translate(1462.55 1126) scale(1 1.05)" text-anchor="middle">Tinf2</text>
<path d="M584.8 1210V1472" stroke="#b4b4b4" stroke-width="1.6"/>
<path d="M149 1341H1509.5" stroke="#000" stroke-width="4.6" stroke-dasharray="17.8 17.77"/>
<path d="M137 1210H149V1472M137 1275.5H149M137 1341H149M137 1406.5H149M137 1472H149M155 1472H1515M186.07 1472v11M247.33 1472v11M308.58 1472v11M369.84 1472v11M431.1 1472v11M492.35 1472v11M553.61 1472v11M614.87 1472v11M676.13 1472v11M737.38 1472v11M798.64 1472v11M859.9 1472v11M921.15 1472v11M982.41 1472v11M1043.67 1472v11M1104.92 1472v11M1166.18 1472v11M1227.44 1472v11M1288.7 1472v11M1349.95 1472v11M1411.21 1472v11M1472.47 1472v11" fill="none" stroke="#000" stroke-width="2.2"/>
<text transform="translate(130 1222) scale(1 1.05)" text-anchor="end">4</text>
<text transform="translate(130 1287.5) scale(1 1.05)" text-anchor="end">2</text>
<text transform="translate(130 1353) scale(1 1.05)" text-anchor="end">0</text>
<text transform="translate(130 1418.5) scale(1 1.05)" text-anchor="end">-2</text>
<text transform="translate(130 1484) scale(1 1.05)" text-anchor="end">-4</text>
<path d="M186.07 1381.74V1359.24M176.57 1359.24h19M176.57 1381.74h19M247.33 1472V1409.41M237.83 1409.41h19M308.58 1361.96V1344.93M299.08 1344.93h19M299.08 1361.96h19M369.84 1336.12V1326.39M360.34 1326.39h19M360.34 1336.12h19M431.1 1438.3V1354.98M421.6 1354.98h19M421.6 1438.3h19M492.35 1368.97V1340.08M482.85 1340.08h19M482.85 1368.97h19M553.61 1379.32V1360.78M544.11 1360.78h19M544.11 1379.32h19M614.87 1373.55V1339.49M605.37 1339.49h19M605.37 1373.55h19M676.13 1335.24V1318.8M666.63 1318.8h19M666.63 1335.24h19M737.38 1309.36V1256.18M727.88 1256.18h19M727.88 1309.36h19M798.64 1368.38V1287.19M789.14 1287.19h19M789.14 1368.38h19M859.9 1322.14V1280.48M850.4 1280.48h19M850.4 1322.14h19M921.15 1330.65V1275.93M911.65 1275.93h19M911.65 1330.65h19M982.41 1374.14V1285.06M972.91 1285.06h19M972.91 1374.14h19M1043.67 1357.67V1273.99M1034.17 1273.99h19M1034.17 1357.67h19M1104.92 1294V1218.32M1095.42 1218.32h19M1095.42 1294h19M1166.18 1302.03V1228.01M1156.68 1228.01h19M1156.68 1302.03h19M1227.44 1293.35V1248.32M1217.94 1248.32h19M1217.94 1293.35h19M1288.7 1320.99V1265.02M1279.2 1265.02h19M1279.2 1320.99h19M1349.95 1323.68V1249.99M1340.45 1249.99h19M1340.45 1323.68h19M1411.21 1362.68V1320.33M1401.71 1320.33h19M1401.71 1362.68h19M1472.47 1312.02V1234.99M1462.97 1234.99h19M1462.97 1312.02h19" fill="none" stroke="#83558F" stroke-width="1.8"/>
<circle cx="186.07" cy="1369.3" r="5.5" fill="#9A54A4" stroke="#7E5487" stroke-width="1.1"/>
<circle cx="247.33" cy="1456.54" r="5.5" fill="#9A54A4" stroke="#7E5487" stroke-width="1.1"/>
<circle cx="308.58" cy="1353.15" r="5.5" fill="#9A54A4" stroke="#7E5487" stroke-width="1.1"/>
<circle cx="369.84" cy="1331.27" r="5.5" fill="#9A54A4" stroke="#7E5487" stroke-width="1.1"/>
<circle cx="431.1" cy="1381.45" r="5.5" fill="#9A54A4" stroke="#7E5487" stroke-width="1.1"/>
<circle cx="492.35" cy="1351.02" r="5.5" fill="#9A54A4" stroke="#7E5487" stroke-width="1.1"/>
<circle cx="553.61" cy="1370.18" r="5.5" fill="#9A54A4" stroke="#7E5487" stroke-width="1.1"/>
<circle cx="614.87" cy="1354.69" r="5.5" fill="#9A54A4" stroke="#7E5487" stroke-width="1.1"/>
<circle cx="676.13" cy="1327.61" r="5.5" fill="#9A54A4" stroke="#7E5487" stroke-width="1.1"/>
<circle cx="737.38" cy="1275.93" r="5.5" fill="#9A54A4" stroke="#7E5487" stroke-width="1.1"/>
<circle cx="798.64" cy="1312.11" r="5.5" fill="#9A54A4" stroke="#7E5487" stroke-width="1.1"/>
<circle cx="859.9" cy="1301.77" r="5.5" fill="#9A54A4" stroke="#7E5487" stroke-width="1.1"/>
<circle cx="921.15" cy="1295.71" r="5.5" fill="#9A54A4" stroke="#7E5487" stroke-width="1.1"/>
<circle cx="982.41" cy="1311.53" r="5.5" fill="#9A54A4" stroke="#7E5487" stroke-width="1.1"/>
<circle cx="1043.67" cy="1326.66" r="5.5" fill="#9A54A4" stroke="#7E5487" stroke-width="1.1"/>
<circle cx="1104.92" cy="1270" r="5.5" fill="#9A54A4" stroke="#7E5487" stroke-width="1.1"/>
<circle cx="1166.18" cy="1251.66" r="5.5" fill="#9A54A4" stroke="#7E5487" stroke-width="1.1"/>
<circle cx="1227.44" cy="1273.99" r="5.5" fill="#9A54A4" stroke="#7E5487" stroke-width="1.1"/>
<circle cx="1288.7" cy="1301.01" r="5.5" fill="#9A54A4" stroke="#7E5487" stroke-width="1.1"/>
<circle cx="1349.95" cy="1300.32" r="5.5" fill="#9A54A4" stroke="#7E5487" stroke-width="1.1"/>
<circle cx="1411.21" cy="1346.34" r="5.5" fill="#9A54A4" stroke="#7E5487" stroke-width="1.1"/>
<circle cx="1472.47" cy="1284.34" r="5.5" fill="#9A54A4" stroke="#7E5487" stroke-width="1.1"/>
<text transform="translate(198.07 1491) rotate(-90) scale(1 1.05)" text-anchor="end">Cdc40</text>
<text transform="translate(259.33 1491) rotate(-90) scale(1 1.05)" text-anchor="end">Lin7c</text>
<text transform="translate(320.58 1491) rotate(-90) scale(1 1.05)" text-anchor="end">Mos</text>
<text transform="translate(381.84 1503.5) rotate(-90) scale(1 1.05)" text-anchor="end">Pcm1</text>
<text transform="translate(443.1 1499.5) rotate(-90) scale(1 1.05)" text-anchor="end">Pum2</text>
<text transform="translate(504.35 1492) rotate(-90) scale(1 1.05)" text-anchor="end">Suz12</text>
<text transform="translate(565.61 1491) rotate(-90) scale(1 1.05)" text-anchor="end">Cdc27</text>
<text transform="translate(626.87 1493) rotate(-90) scale(1 1.05)" text-anchor="end">Fzr1</text>
<text transform="translate(688.13 1491) rotate(-90) scale(1 1.05)" text-anchor="end">Cpeb1</text>
<text transform="translate(749.38 1491) rotate(-90) scale(1 1.05)" text-anchor="end">Rpl26</text>
<text transform="translate(810.64 1491) rotate(-90) scale(1 1.05)" text-anchor="end">Rpl36</text>
<text transform="translate(871.9 1491) rotate(-90) scale(1 1.05)" text-anchor="end">Actb</text>
<text transform="translate(933.15 1491) rotate(-90) scale(1 1.05)" text-anchor="end">Cd151</text>
<text transform="translate(994.41 1491) rotate(-90) scale(1 1.05)" text-anchor="end">Gapdh</text>
<text transform="translate(1055.67 1491) rotate(-90) scale(1 1.05)" text-anchor="end">Med7</text>
<text transform="translate(1116.92 1491) rotate(-90) scale(1 1.05)" text-anchor="end">Miox</text>
<text transform="translate(1178.18 1491) rotate(-90) scale(1 1.05)" text-anchor="end">Paip2</text>
<text transform="translate(1239.44 1491) rotate(-90) scale(1 1.05)" text-anchor="end">Pfdn5</text>
<text transform="translate(1300.7 1491) rotate(-90) scale(1 1.05)" text-anchor="end">Qars</text>
<text transform="translate(1361.95 1491) rotate(-90) scale(1 1.05)" text-anchor="end">Rimka</text>
<text transform="translate(1423.21 1491) rotate(-90) scale(1 1.05)" text-anchor="end">Stx5a</text>
<text transform="translate(1484.47 1492) rotate(-90) scale(1 1.05)" text-anchor="end">Tinf2</text>
<text transform="translate(829 1194) scale(1 1.05)" text-anchor="middle" font-size="32">TE Ratios</text>
<text transform="translate(77.8 1336) rotate(-90) scale(1 1.05)" text-anchor="middle" font-size="32.5">Log2(GV/MII)</text>
<text transform="translate(77.7 168.5) rotate(-90) scale(1 1.05)" text-anchor="middle" font-size="33.4">Normalized Count</text>
<text transform="translate(77.7 542.5) rotate(-90) scale(1 1.05)" text-anchor="middle" font-size="33.4">Normalized Count</text>
<text transform="translate(77.7 921.5) rotate(-90) scale(1 1.05)" text-anchor="middle" font-size="33.4">Normalized Count</text>
<text x="-1.2" y="19.6" font-weight="bold" font-size="36">a</text>
<text x="2" y="399.5" font-weight="bold" font-size="34">b</text>
<text x="1.5" y="1169.5" font-weight="bold" font-size="34">c</text>
</svg>
</body></html>
